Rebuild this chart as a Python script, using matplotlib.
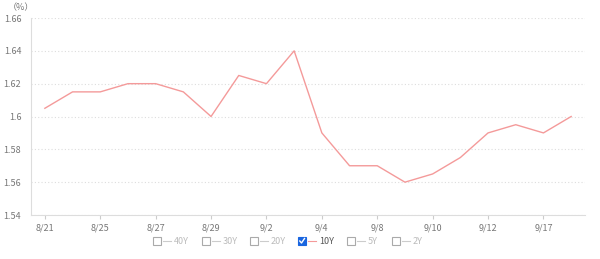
import numpy as np
import matplotlib.pyplot as plt
from matplotlib.patches import Rectangle
from matplotlib.lines import Line2D

plt.rcParams['font.family'] = ['Noto Sans CJK JP', 'DejaVu Sans']

dates = ['8/21', '8/24', '8/25', '8/26', '8/27', '8/28', '8/29', '9/1', '9/2', '9/3',
         '9/4', '9/7', '9/8', '9/9', '9/10', '9/11', '9/12', '9/16', '9/17', '9/18']
yield_10y = [1.605, 1.615, 1.615, 1.62, 1.62, 1.615, 1.60, 1.625, 1.62, 1.64,
             1.59, 1.57, 1.57, 1.56, 1.565, 1.575, 1.59, 1.595, 1.59, 1.60]
y_ticks = [1.54, 1.56, 1.58, 1.6, 1.62, 1.64, 1.66]
y_tick_labels = ['1.54', '1.56', '1.58', '1.6', '1.62', '1.64', '1.66']
legend_names = ['40Y', '30Y', '20Y', '10Y', '5Y', '2Y']
legend_checked = [False, False, False, True, False, False]

line_color = '#f49a9a'
grey = '#777777'

W, H = 600, 259
fig = plt.figure(figsize=(6, 2.59), dpi=100)
ax = fig.add_axes([31 / W, 1 - 215 / H, (585 - 31) / W, (215 - 18) / H])

x = np.arange(len(dates))
ax.plot(x, yield_10y, color=line_color, lw=1.0)

ax.set_xlim(-0.5, len(dates) - 0.5)
ax.set_ylim(1.54, 1.66)
ax.set_yticks(y_ticks)
ax.set_yticklabels(y_tick_labels)
ax.set_xticks(x[::2])
ax.set_xticklabels(dates[::2])
ax.tick_params(axis='y', length=0, labelsize=6.5, colors=grey, pad=7)
ax.tick_params(axis='x', length=3, color='#cccccc', labelsize=6.5, colors=grey, pad=3)

ax.grid(axis='y', color='#dddddd', linestyle=(0, (1, 2)), lw=0.8)
ax.set_axisbelow(True)
for s in ['top', 'right']:
    ax.spines[s].set_visible(False)
ax.spines['left'].set_color('#dddddd')
ax.spines['bottom'].set_color('#dddddd')

fig.text(8 / W, 1 - 8 / H, '（%）', fontsize=6.5, color=grey, va='center')

# legend with checkboxes
legend_x = [153, 202, 250, 298, 347, 392]
ly = 241
for name, lx, checked in zip(legend_names, legend_x, legend_checked):
    bw, bh = 8, 8
    if checked:
        fig.patches.append(Rectangle((lx / W, (H - ly - bh / 2) / H), bw / W, bh / H,
                                     transform=fig.transFigure, facecolor='#1a66e0',
                                     edgecolor='#1a66e0', lw=0.8))
        fig.lines.append(Line2D([(lx + 1.8) / W, (lx + 3.5) / W, (lx + 6.5) / W],
                                [(H - ly) / H, (H - ly - 2) / H, (H - ly + 2.5) / H],
                                transform=fig.transFigure, color='white', lw=1.0))
        dash_col, text_col = line_color, '#555555'
    else:
        fig.patches.append(Rectangle((lx / W, (H - ly - bh / 2) / H), bw / W, bh / H,
                                     transform=fig.transFigure, facecolor='white',
                                     edgecolor='#aaaaaa', lw=0.8))
        dash_col, text_col = '#cccccc', '#bbbbbb'
    fig.lines.append(Line2D([(lx + 10) / W, (lx + 18) / W], [(H - ly) / H] * 2,
                            transform=fig.transFigure, color=dash_col, lw=0.8))
    fig.text((lx + 21) / W, (H - ly) / H, name, fontsize=6.5, color=text_col, va='center')

fig.savefig('out.png', dpi=100)
